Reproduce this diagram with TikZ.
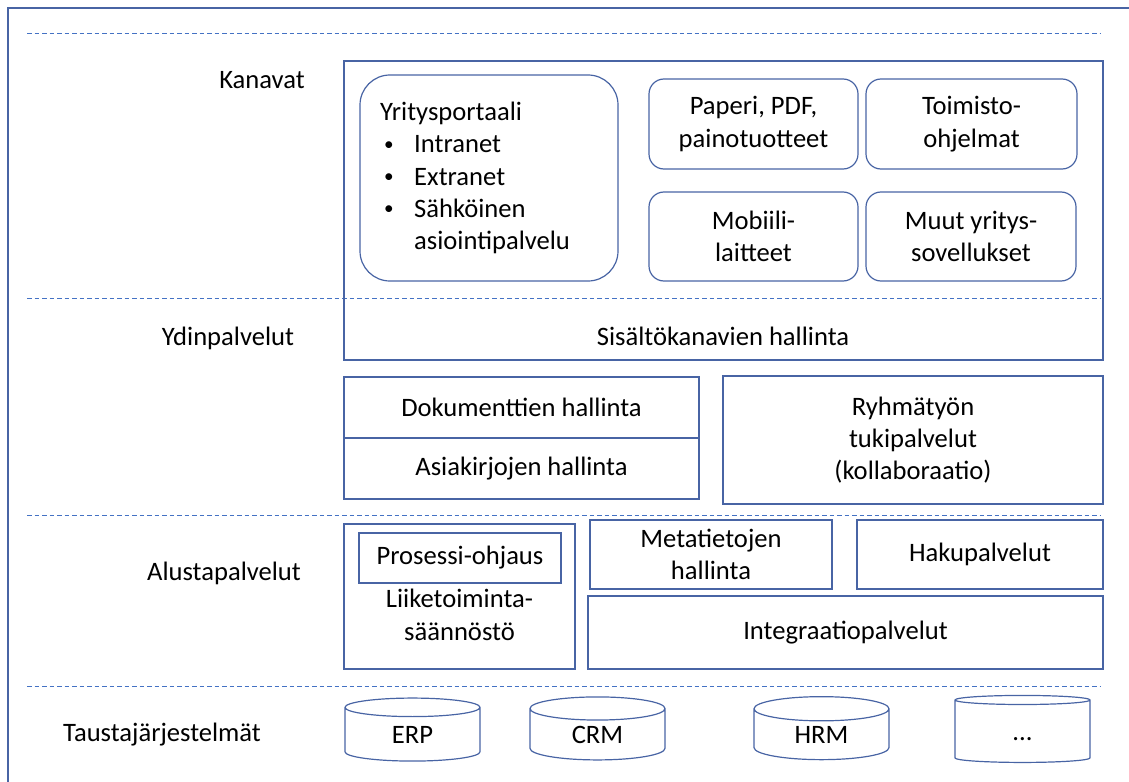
\documentclass[tikz,border=0pt]{standalone}
\usepackage{fontspec}
\setmainfont{Carlito}
\usetikzlibrary{shapes.geometric}
\definecolor{edge}{RGB}{72,100,164}
\definecolor{sep}{RGB}{68,114,196}
\newcommand{\bulletmark}{\makebox[34bp][l]{\hspace{4bp}\raisebox{2.5bp}{\scalebox{0.72}{\textbullet}}}}
\begin{document}
\begin{tikzpicture}[x=1bp,y=-1bp,
  every node/.style={font=\fontsize{26.7}{32.5}\selectfont, text=black},
  box/.style={draw=edge, line width=1.2bp, inner sep=0pt, align=center},
  rbox/.style={box, rounded corners=15bp},
  bigrbox/.style={box, rounded corners=30bp},
  layerlabel/.style={inner sep=0pt},
  db/.style={cylinder, shape border rotate=90, draw=edge, line width=1.2bp,
    aspect=0.45, minimum width=135bp, inner sep=0pt,
    text height=18bp, text depth=0bp},
  sepline/.style={draw=sep, line width=1bp, dash pattern=on 4.5bp off 3bp}]
\useasboundingbox (0,0) rectangle (1129,782);

% outer frame (left and top edges)
\draw[edge, line width=1.3bp] (8,782) -- (8,8) -- (1129,8);

% layer separators
\foreach \yy in {34,298,515,686}
  \draw[sepline] (27,\yy) -- (1101,\yy);

% layer titles
\node[layerlabel] (lkan) at (262,80) {Kanavat};
\node[layerlabel] (lydin) at (228,338) {Ydinpalvelut};
\node[layerlabel] (lalu) at (224,573) {Alustapalvelut};
\node[layerlabel] (ltausta) at (162,735) {Taustajärjestelmät};

% channels
\node[box, minimum width=759bp, minimum height=299bp] (kanavat) at (723.5,210.5) {};
\node[inner sep=0pt] (sisalto) at (723,336) {Sisältökanavien hallinta};
\node[bigrbox, minimum width=258bp, minimum height=206bp] (portaali) at (489,178) {};
\node[inner sep=0pt, anchor=west, align=left] (portaalitext) at (380,178)
  {Yritysportaali\\
   \bulletmark Intranet\\
   \bulletmark Extranet\\
   \bulletmark Sähköinen\\
   \makebox[34bp][l]{}asiointipalvelu};
\node[rbox, minimum width=209bp, minimum height=90bp] (paperi) at (753.5,124) {Paperi, PDF,\\painotuotteet};
\node[rbox, minimum width=211bp, minimum height=90bp] (toimisto) at (971.5,124) {Toimisto-\\ohjelmat};
\node[rbox, minimum width=209bp, minimum height=89bp] (mobiili) at (753.5,236.5) {Mobiili-\\laitteet};
\node[rbox, minimum width=210bp, minimum height=89bp] (muut) at (971,236.5) {Muut yritys-\\sovellukset};

% core services
\node[box, minimum width=355bp, minimum height=61bp] (dok) at (521.5,407.5) {Dokumenttien hallinta};
\node[box, minimum width=355bp, minimum height=61bp] (asia) at (521.5,468.5) {Asiakirjojen hallinta};
\node[box, minimum width=380bp, minimum height=128bp] (ryhma) at (913,440) {Ryhmätyön\\tukipalvelut\\(kollaboraatio)};

% platform services
\node[box, minimum width=231bp, minimum height=145bp] (liike) at (459.5,596.5) {};
\node[inner sep=0pt, align=center] (liiketext) at (459.5,615) {Liiketoiminta-\\säännöstö};
\node[box, minimum width=202bp, minimum height=50bp] (prosessi) at (460,558) {Prosessi-ohjaus};
\node[box, minimum width=242bp, minimum height=69bp] (meta) at (711,554.5) {Metatietojen\\hallinta};
\node[box, minimum width=246bp, minimum height=69bp] (haku) at (980,554.5) {Hakupalvelut};
\node[box, minimum width=515bp, minimum height=73bp] (integ) at (845.5,632.5) {Integraatiopalvelut};

% back-end systems
\node[db, minimum height=63bp] (erp) at (412.5,734.5) {ERP};
\node[db, minimum height=63bp] (crm) at (597.5,734.5) {CRM};
\node[db, minimum height=63bp] (hrm) at (821.5,734.5) {HRM};
\node[db, minimum height=67bp] (muutdb) at (1022.5,731.5) {...};
\end{tikzpicture}
\end{document}
